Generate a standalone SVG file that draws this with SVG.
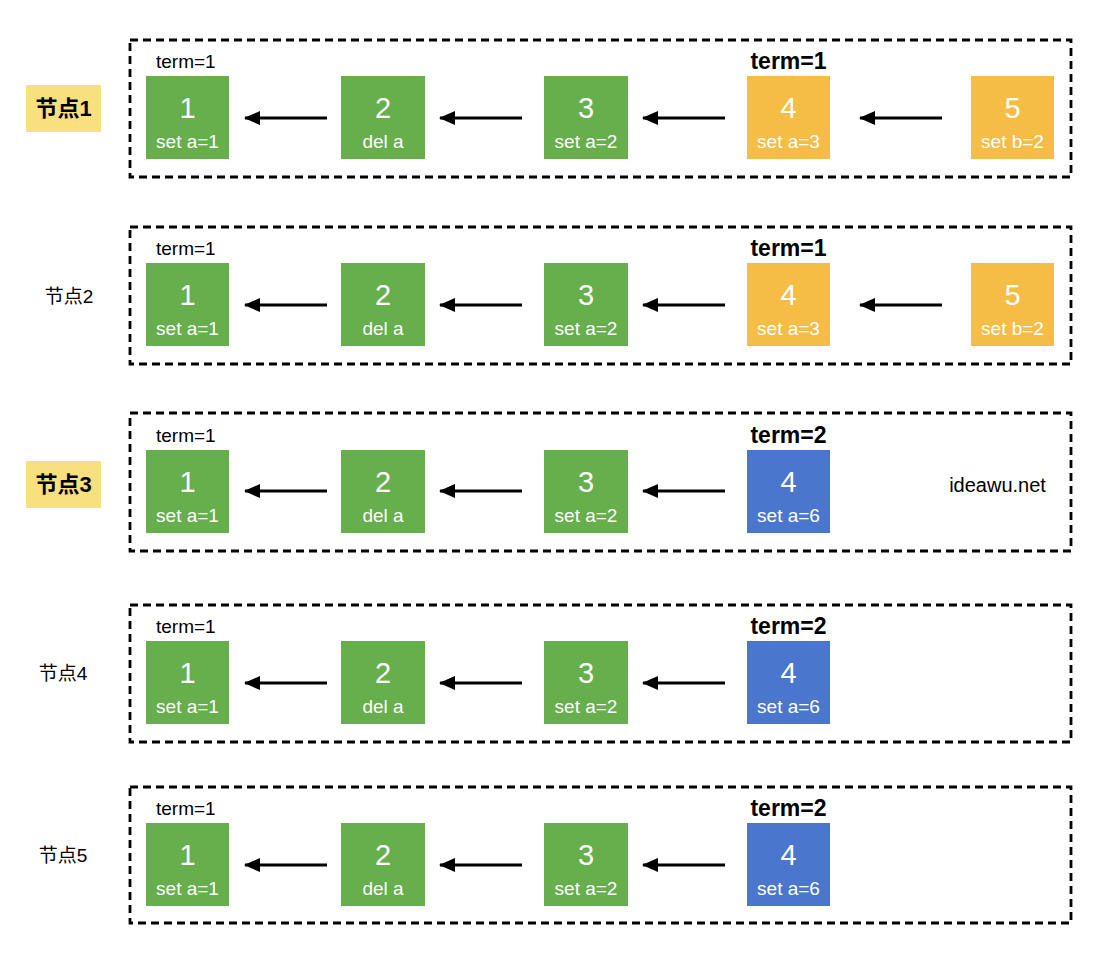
<svg xmlns="http://www.w3.org/2000/svg" width="1118" height="960" viewBox="0 0 1118 960">
<style>
.frame{fill:none;stroke:#000;stroke-width:2.8;stroke-dasharray:8 5}
.g{fill:#67AE4C}.o{fill:#F5BD45}.b{fill:#4A77CD}
.num{font-family:"Liberation Sans",Arial,sans-serif;font-size:29px;fill:#fff;text-anchor:middle}
.sub{font-family:"Liberation Sans",Arial,sans-serif;font-size:19px;fill:#fff;text-anchor:middle}
.term{font-family:"Liberation Sans",Arial,sans-serif;font-size:19px;fill:#000}
.termb{font-family:"Liberation Sans",Arial,sans-serif;font-size:23px;font-weight:bold;fill:#000;text-anchor:middle}
.lbl{font-family:"Liberation Sans","Noto Sans CJK SC",sans-serif;font-size:19px;fill:#000;text-anchor:middle}
.lblb{font-family:"Liberation Sans","Noto Sans CJK SC",sans-serif;font-size:22px;font-weight:bold;fill:#000;text-anchor:middle}
.hl{fill:#F8E07F}
.arrow{stroke:#000;stroke-width:2.8;fill:none;marker-end:url(#ah)}
</style>
<defs>
<marker id="ah" markerUnits="userSpaceOnUse" markerWidth="16" markerHeight="14" refX="15" refY="7" orient="auto">
<path d="M0,0 L16,7 L0,14 Z" fill="#000"/>
</marker>
</defs>
<rect width="1118" height="960" fill="#fff"/>

<!-- Row 1 -->
<g id="row1">
<rect class="frame" x="130" y="40" width="941" height="137"/>
<g id="label1"><rect class="hl" x="26" y="85" width="75" height="47"/><text class="lblb" x="63.5" y="116">节点1</text></g>
<text class="term" x="156" y="68">term=1</text>
<text class="termb" x="788.5" y="69">term=1</text>
<g id="r1n1"><rect class="g" x="146" y="76" width="83" height="83"/><text class="num" x="187.5" y="118">1</text><text class="sub" x="187.5" y="148">set a=1</text></g>
<g id="r1n2"><rect class="g" x="341" y="76" width="84" height="83"/><text class="num" x="383" y="118">2</text><text class="sub" x="383" y="148">del a</text></g>
<g id="r1n3"><rect class="g" x="544" y="76" width="84" height="83"/><text class="num" x="586" y="118">3</text><text class="sub" x="586" y="148">set a=2</text></g>
<g id="r1n4"><rect class="o" x="747" y="76" width="83" height="83"/><text class="num" x="788.5" y="118">4</text><text class="sub" x="788.5" y="148">set a=3</text></g>
<g id="r1n5"><rect class="o" x="971" y="76" width="83" height="83"/><text class="num" x="1012.5" y="118">5</text><text class="sub" x="1012.5" y="148">set b=2</text></g>
</g>

<!-- Row 2 -->
<g id="row2">
<rect class="frame" x="130" y="227" width="941" height="137"/>
<g id="label2"><text class="lbl" x="69" y="303">节点2</text></g>
<text class="term" x="156" y="255">term=1</text>
<text class="termb" x="788.5" y="256">term=1</text>
<g id="r2n1"><rect class="g" x="146" y="263" width="83" height="83"/><text class="num" x="187.5" y="305">1</text><text class="sub" x="187.5" y="335">set a=1</text></g>
<g id="r2n2"><rect class="g" x="341" y="263" width="84" height="83"/><text class="num" x="383" y="305">2</text><text class="sub" x="383" y="335">del a</text></g>
<g id="r2n3"><rect class="g" x="544" y="263" width="84" height="83"/><text class="num" x="586" y="305">3</text><text class="sub" x="586" y="335">set a=2</text></g>
<g id="r2n4"><rect class="o" x="747" y="263" width="83" height="83"/><text class="num" x="788.5" y="305">4</text><text class="sub" x="788.5" y="335">set a=3</text></g>
<g id="r2n5"><rect class="o" x="971" y="263" width="83" height="83"/><text class="num" x="1012.5" y="305">5</text><text class="sub" x="1012.5" y="335">set b=2</text></g>
</g>

<!-- Row 3 -->
<g id="row3">
<rect class="frame" x="130" y="413" width="941" height="138"/>
<g id="label3"><rect class="hl" x="26" y="461" width="75" height="47"/><text class="lblb" x="63.5" y="492">节点3</text></g>
<text class="term" x="156" y="442">term=1</text>
<text class="termb" x="788.5" y="443">term=2</text>
<g id="r3n1"><rect class="g" x="146" y="450" width="83" height="83"/><text class="num" x="187.5" y="492">1</text><text class="sub" x="187.5" y="522">set a=1</text></g>
<g id="r3n2"><rect class="g" x="341" y="450" width="84" height="83"/><text class="num" x="383" y="492">2</text><text class="sub" x="383" y="522">del a</text></g>
<g id="r3n3"><rect class="g" x="544" y="450" width="84" height="83"/><text class="num" x="586" y="492">3</text><text class="sub" x="586" y="522">set a=2</text></g>
<g id="r3n4"><rect class="b" x="747" y="450" width="83" height="83"/><text class="num" x="788.5" y="492">4</text><text class="sub" x="788.5" y="522">set a=6</text></g>
<text id="watermark" x="997.5" y="492" font-family="Liberation Sans, Arial, sans-serif" font-size="20" text-anchor="middle" fill="#000">ideawu.net</text>
</g>

<!-- Row 4 -->
<g id="row4">
<rect class="frame" x="130" y="605" width="941" height="137"/>
<g id="label4"><text class="lbl" x="63" y="680">节点4</text></g>
<text class="term" x="156" y="633">term=1</text>
<text class="termb" x="788.5" y="634">term=2</text>
<g id="r4n1"><rect class="g" x="146" y="641" width="83" height="83"/><text class="num" x="187.5" y="683">1</text><text class="sub" x="187.5" y="713">set a=1</text></g>
<g id="r4n2"><rect class="g" x="341" y="641" width="84" height="83"/><text class="num" x="383" y="683">2</text><text class="sub" x="383" y="713">del a</text></g>
<g id="r4n3"><rect class="g" x="544" y="641" width="84" height="83"/><text class="num" x="586" y="683">3</text><text class="sub" x="586" y="713">set a=2</text></g>
<g id="r4n4"><rect class="b" x="747" y="641" width="83" height="83"/><text class="num" x="788.5" y="683">4</text><text class="sub" x="788.5" y="713">set a=6</text></g>
</g>

<!-- Row 5 -->
<g id="row5">
<rect class="frame" x="130" y="787" width="941" height="136"/>
<g id="label5"><text class="lbl" x="63" y="862">节点5</text></g>
<text class="term" x="156" y="815">term=1</text>
<text class="termb" x="788.5" y="816">term=2</text>
<g id="r5n1"><rect class="g" x="146" y="823" width="83" height="83"/><text class="num" x="187.5" y="865">1</text><text class="sub" x="187.5" y="895">set a=1</text></g>
<g id="r5n2"><rect class="g" x="341" y="823" width="84" height="83"/><text class="num" x="383" y="865">2</text><text class="sub" x="383" y="895">del a</text></g>
<g id="r5n3"><rect class="g" x="544" y="823" width="84" height="83"/><text class="num" x="586" y="865">3</text><text class="sub" x="586" y="895">set a=2</text></g>
<g id="r5n4"><rect class="b" x="747" y="823" width="83" height="83"/><text class="num" x="788.5" y="865">4</text><text class="sub" x="788.5" y="895">set a=6</text></g>
</g>

<!-- Connectors -->
<g id="connectors">
<line class="arrow" x1="327" y1="118" x2="245" y2="118"/>
<line class="arrow" x1="522" y1="118" x2="440" y2="118"/>
<line class="arrow" x1="725" y1="118" x2="643" y2="118"/>
<line class="arrow" x1="942" y1="118" x2="860" y2="118"/>

<line class="arrow" x1="327" y1="305" x2="245" y2="305"/>
<line class="arrow" x1="522" y1="305" x2="440" y2="305"/>
<line class="arrow" x1="725" y1="305" x2="643" y2="305"/>
<line class="arrow" x1="942" y1="305" x2="860" y2="305"/>

<line class="arrow" x1="327" y1="491" x2="245" y2="491"/>
<line class="arrow" x1="522" y1="491" x2="440" y2="491"/>
<line class="arrow" x1="725" y1="491" x2="643" y2="491"/>

<line class="arrow" x1="327" y1="683" x2="245" y2="683"/>
<line class="arrow" x1="522" y1="683" x2="440" y2="683"/>
<line class="arrow" x1="725" y1="683" x2="643" y2="683"/>

<line class="arrow" x1="327" y1="865" x2="245" y2="865"/>
<line class="arrow" x1="522" y1="865" x2="440" y2="865"/>
<line class="arrow" x1="725" y1="865" x2="643" y2="865"/>
</g>
</svg>
